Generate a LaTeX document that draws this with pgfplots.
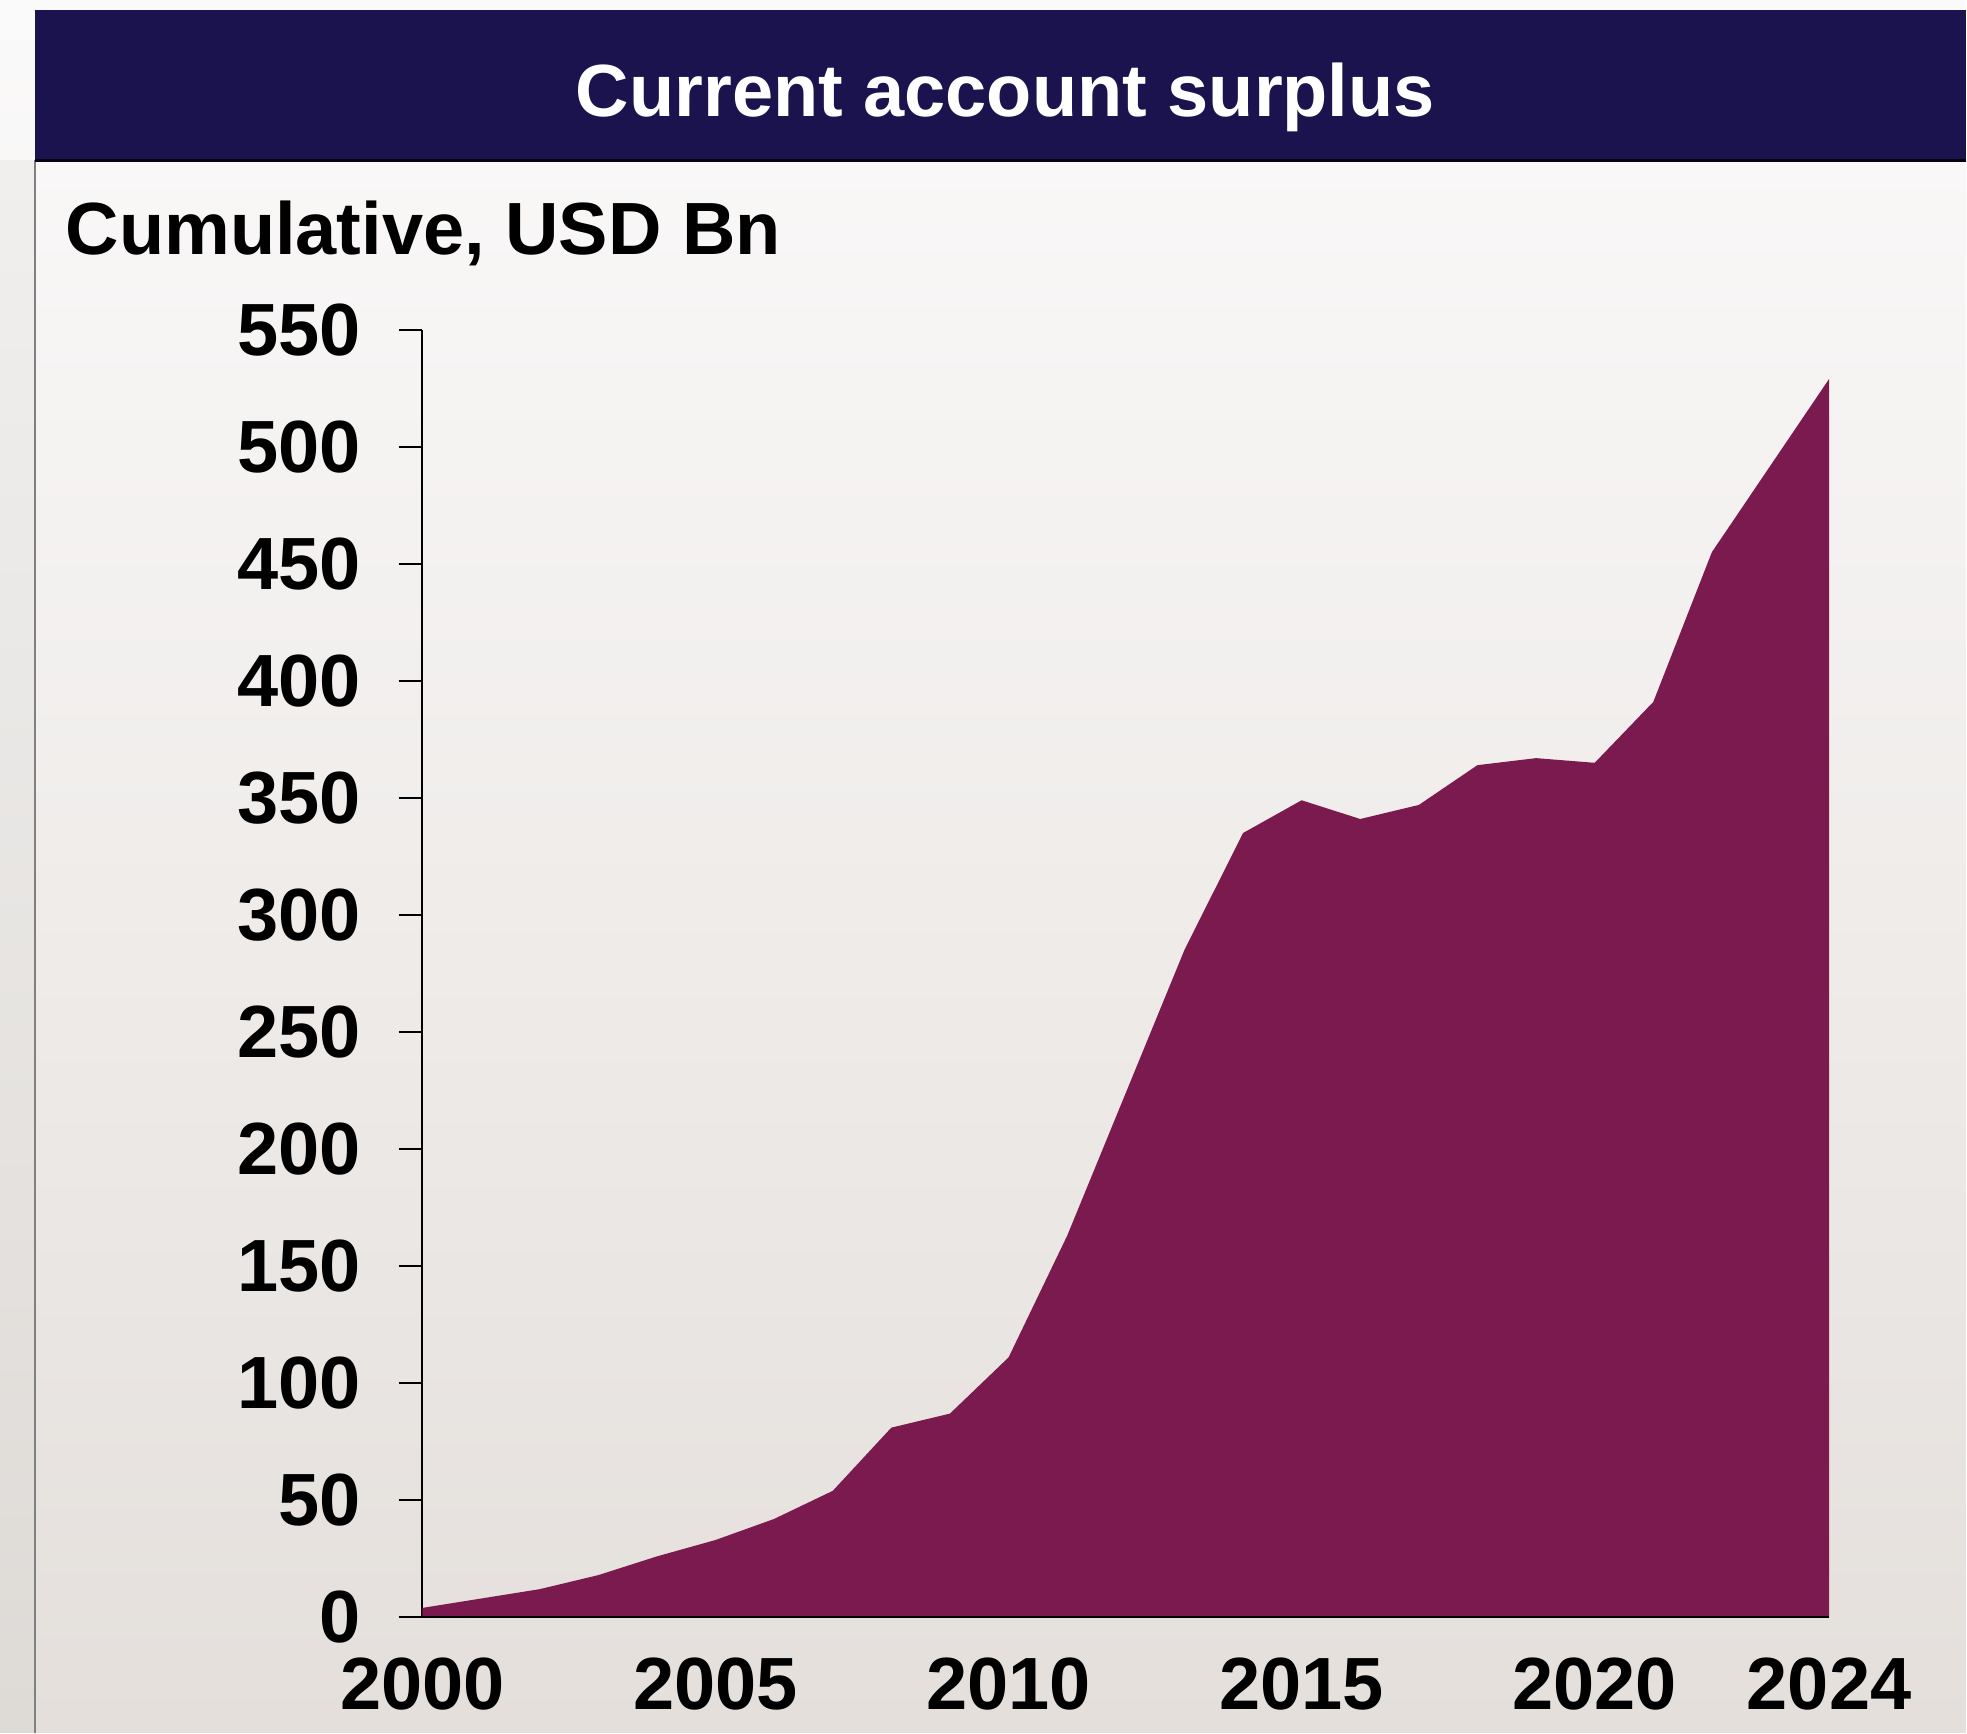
\documentclass[border=0pt]{standalone}
\usepackage{fontspec}
\setmainfont{Liberation Sans}
\usepackage{pgfplots}
\pgfplotsset{compat=1.18}

\definecolor{banner}{HTML}{1B134E}
\definecolor{areafill}{HTML}{7A1A4E}
\definecolor{bgtop}{HTML}{FBFAFA}
\definecolor{bgbot}{HTML}{E4DFDB}
\definecolor{striptop}{HTML}{F0EFEE}
\definecolor{stripbot}{HTML}{DEDAD6}

\newcommand{\chartfont}{\fontsize{29.5}{34}\bfseries\selectfont}

\begin{document}
\begin{tikzpicture}
% background (1 px of the reference = 0.5pt)
\shade[top color=bgtop, bottom color=bgbot] (0pt,0pt) rectangle (784pt,-691pt);
\shade[top color=striptop, bottom color=stripbot] (0pt,-64pt) rectangle (14pt,-691pt);
\draw[gray, line width=0.6pt] (14pt,-64pt) -- (14pt,-691pt);
\fill[banner] (14pt,-4pt) rectangle (784pt,-64pt);
\draw[black!80!banner, line width=1pt] (14pt,-64pt) -- (784pt,-64pt);

\node[text=white, font=\chartfont, anchor=base, inner sep=0pt] at (401pt,-46.5pt) {Current account surplus};
\node[font=\chartfont, anchor=base west, inner sep=0pt] at (26pt,-101.5pt) {Cumulative, USD Bn};

\begin{axis}[
    at={(168.5pt,-645pt)}, anchor=south west,
    scale only axis,
    width=561pt, height=513.5pt,
    xmin=2000, xmax=2024,
    ymin=0, ymax=550,
    axis x line=bottom, axis y line=left,
    axis line style={-, black, line width=0.8pt},
    xtick={2000,2005,2010,2015,2020,2024},
    ytick={0,50,...,550},
    x tick label style={font=\chartfont, inner sep=0pt, anchor=north, yshift=-6.5pt},
    y tick label style={font=\chartfont, inner sep=0pt, anchor=east, xshift=-15pt},
    xtick style={draw=none},
    ytick style={black, line width=0.8pt},
    tick align=outside,
    major tick length=9.5pt,
    /pgf/number format/1000 sep={},
    /pgf/number format/assume math mode=true,
    clip=false,
]
\addplot[fill=areafill, draw=none] coordinates {
    (2000,4) (2001,8) (2002,12) (2003,18) (2004,26) (2005,33)
    (2006,42) (2007,54) (2008,81) (2009,87) (2010,111) (2011,163)
    (2012,224) (2013,285) (2014,335) (2015,349) (2016,341) (2017,347)
    (2018,364) (2019,367) (2020,365) (2021,391) (2022,455) (2023,492)
    (2024,529)
} \closedcycle;
\draw[black, line width=0.8pt] (axis cs:2000,0) -- (axis cs:2024,0);
\end{axis}
\end{tikzpicture}
\end{document}
